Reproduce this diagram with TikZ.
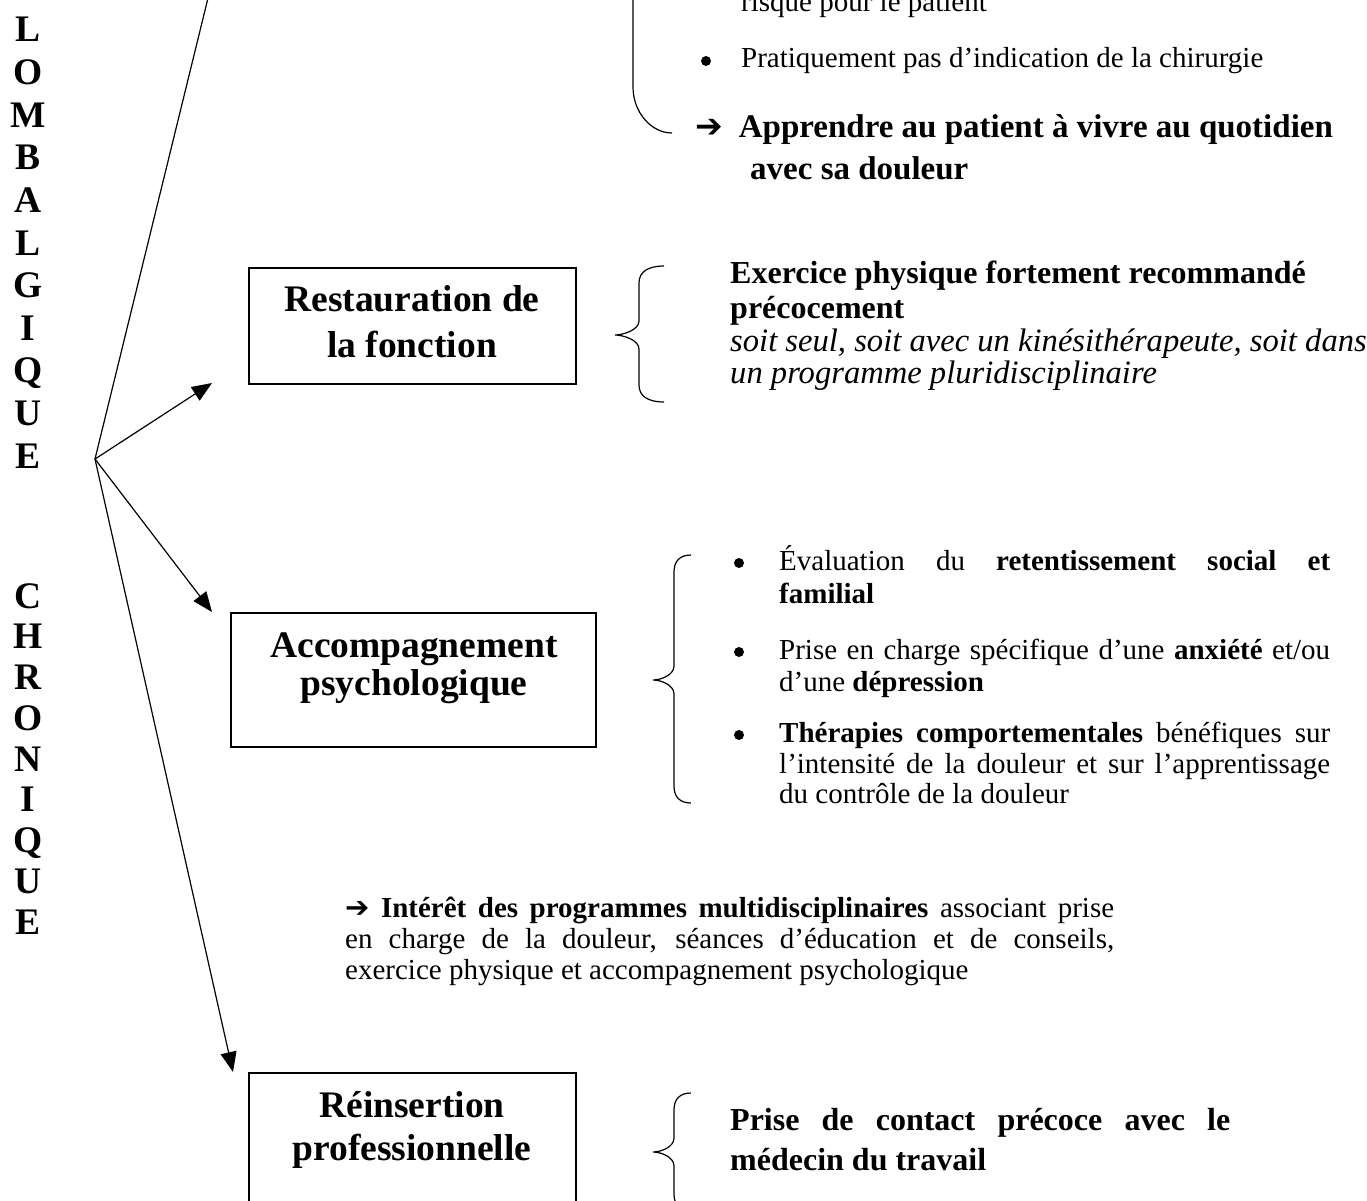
\documentclass[tikz,border=0pt]{standalone}
\usepackage{fontspec}
\setmainfont{Liberation Serif}
\newfontfamily\symf{DejaVu Sans}
\usetikzlibrary{arrows.meta,calc}
\newcommand\curlybrace[6]{% xend xv xtip ytop ymid ybot
  \draw[bracel] (#1,#4) .. controls ({#2+0.35*(#1-#2)},#4) and (#2,{#4+6}) .. (#2,{#4+17})
    -- (#2,{#5-14}) .. controls (#2,{#5-5}) and ({#3+8},#5) .. (#3,#5)
    .. controls ({#3+8},#5) and (#2,{#5+5}) .. (#2,{#5+14})
    -- (#2,{#6-17}) .. controls (#2,{#6-6}) and ({#2+0.35*(#1-#2)},#6) .. (#1,#6);}
\begin{document}
\begin{tikzpicture}[x=1pt,y=-1pt,
  conn/.style={line width=1.2pt},
  arr/.style={conn,-{Triangle[length=20pt,width=16pt]}},
  box/.style={draw,line width=1.2pt,inner sep=0pt},
  ttl/.style={anchor=base,inner sep=0pt,font=\fontsize{37.5}{40}\selectfont\bfseries},
  letter/.style={anchor=base,inner sep=0pt,font=\fontsize{37.5}{40}\selectfont\bfseries},
  txt/.style={anchor=base west,inner sep=0pt,font=\fontsize{29}{33}\selectfont},
  btxt/.style={anchor=base west,inner sep=0pt,font=\fontsize{32}{36}\selectfont\bfseries},
  itxt/.style={anchor=base west,inner sep=0pt,font=\fontsize{32.6}{36}\selectfont\itshape},
  bul/.style={circle,fill,inner sep=0pt,minimum size=10pt},
  bracel/.style={line width=1.2pt},
]
\useasboundingbox (0,0) rectangle (1367,1201);
\clip (0,0) rectangle (1367,1201);

% vertical title letters
\foreach \l [count=\i from 0] in {L,O,M,B,A,L,G,I,Q,U,E}
  \node[letter] (lom\i) at (28,{42+42.6*\i}) {\l};
\foreach \l [count=\i from 0] in {C,H,R,O,N,I,Q,U,E}
  \node[letter] (chr\i) at (28,{608+40.75*\i}) {\l};

% hub and connectors
\coordinate (hub) at (95,459);
\coordinate (upend) at (209.5,-8);
\coordinate (tipR) at (212,383);
\coordinate (tipA) at (212,612);
\coordinate (tipP) at (233,1072);
\draw[conn] (hub) -- (upend);
\draw[arr] (hub) -- (tipR);
\draw[arr] (hub) -- (tipA);
\draw[arr] (hub) -- (tipP);

% top part
\draw[bracel] (633,-5) -- (633,87) .. controls (633,112) and (651,133) .. (672,133);
\node[txt] (risk) at (741,12) {risque pour le patient};
\node[bul] (b0) at (706,61) {};
\node[txt] (prat) at (741,68) {Pratiquement pas d’indication de la chirurgie};
\node[btxt, font=\fontsize{33}{36}\selectfont\bfseries] (appr) at (695,138) {{\symf ➔}\hspace{16pt}Apprendre au patient à vivre au quotidien};
\node[btxt, font=\fontsize{33}{36}\selectfont\bfseries] (avec) at (750,180) {avec sa douleur};

% Restauration
\node[box, minimum width=327pt, minimum height=116pt] (boxR) at (412.5,326) {};
\node[ttl] (tR1) at (412,311) {Restauration de};
\node[ttl] (tR2) at (412,357) {la fonction};
\curlybrace{664}{639}{615}{266}{335}{402}
\node[btxt] (ex1) at (730,283) {Exercice physique fortement recommandé};
\node[btxt] (ex2) at (730,318) {précocement};
\node[itxt] (ex3) at (730,351) {soit seul, soit avec un kinésithérapeute, soit dans};
\node[itxt] (ex4) at (730,383) {un programme pluridisciplinaire};

% Accompagnement
\node[box, minimum width=365pt, minimum height=134pt] (boxA) at (413.5,680) {};
\node[ttl] (tA1) at (414,657) {Accompagnement};
\node[ttl] (tA2) at (414,695) {psychologique};
\curlybrace{691}{674}{653}{555}{680}{803}
\node[bul] (b1) at (739,563) {};
\node[bul] (b2) at (739,652) {};
\node[bul] (b3) at (739,735) {};
\node[txt] (ev1) at (779,570) {\makebox[551pt][s]{Évaluation du \textbf{retentissement social et}}};
\node[txt] (ev2) at (779,603) {\textbf{familial}};
\node[txt] (pr1) at (779,659) {\makebox[551pt][s]{Prise en charge spécifique d’une \textbf{anxiété} et/ou}};
\node[txt] (pr2) at (779,691) {d’une \textbf{dépression}};
\node[txt] (th1) at (779,742) {\makebox[551pt][s]{\textbf{Thérapies comportementales} bénéfiques sur}};
\node[txt] (th2) at (779,773) {\makebox[551pt][s]{l’intensité de la douleur et sur l’apprentissage}};
\node[txt] (th3) at (779,803) {du contrôle de la douleur};

% Intérêt
\node[txt] (int1) at (345,917) {\makebox[769pt][s]{{\symf ➔} \textbf{Intérêt des programmes multidisciplinaires} associant prise}};
\node[txt] (int2) at (345,948) {\makebox[769pt][s]{en charge de la douleur, séances d’éducation et de conseils,}};
\node[txt] (int3) at (345,979) {exercice physique et accompagnement psychologique};

% Réinsertion
\node[box, minimum width=327pt, minimum height=160pt] (boxP) at (412.5,1153) {};
\node[ttl] (tP1) at (412,1117) {Réinsertion};
\node[ttl] (tP2) at (412,1160) {professionnelle};
\curlybrace{691}{674}{653}{1093}{1152}{1211}
\node[btxt] (pc1) at (730,1130) {\makebox[500pt][s]{Prise de contact précoce avec le}};
\node[btxt] (pc2) at (730,1170) {médecin du travail};
\end{tikzpicture}
\end{document}
